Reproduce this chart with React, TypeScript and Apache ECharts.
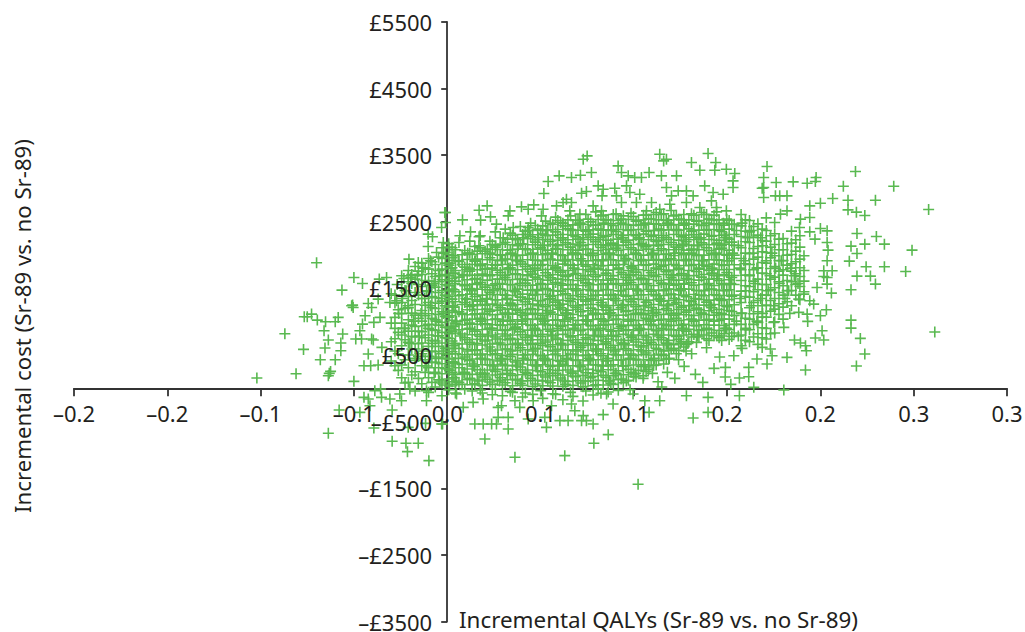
import React, { useEffect, useRef } from "react";
import * as echarts from "echarts";

const xTicks = [-0.2, -0.15, -0.1, -0.05, 0, 0.05, 0.1, 0.15, 0.2, 0.25, 0.3];
const xTickLabels = ["–0.2", "–0.2", "–0.1", "–0.1", "0.0", "0.1", "0.1", "0.2", "0.2", "0.3", "0.3"];
const yTicks = [-3500, -2500, -1500, -500, 500, 1500, 2500, 3500, 4500, 5500];
const yTickLabels = ["–£3500", "–£2500", "–£1500", "–£500", "£500", "£1500", "£2500", "£3500", "£4500", "£5500"];
const xTitle = "Incremental QALYs (Sr-89 vs. no Sr-89)";
const yTitle = "Incremental cost (Sr-89 vs. no Sr-89)";

// Scattered draws: [incremental QALYs, incremental cost]
const leftDraws = [
  [-.102,155],[-.081,220],[-.077,585],[-.087,820],[-.07,1885],[-.0766,1075],[-.075,1075],[-.0727,1115],[-.0696,1025],[-.0652,1000],
  [-.066,865],[-.0637,725],[-.0655,605],[-.068,430],[-.06,430],[-.057,565],[-.057,680],[-.056,815],[-.06,1000],[-.0584,1065],
  [-.0625,255],[-.0637,190],[-.0632,225],[-.0564,1475],[-.05,1665],[-.0454,1575],[-.0507,1250],[-.0504,1215],[-.0512,1240],[-.05,105],
  [-.0446,340],[-.0423,515],[-.041,340],[-.037,350],[-.044,1090],[-.0454,965],[-.0468,865],[-.049,740],[-.0459,740],[-.0405,740],
  [-.0396,725],[-.0393,990],[-.036,1065],[-.0423,1275],[-.0405,1215],[-.037,1340],[-.0325,1665],[-.0364,1640],[-.0307,1290],[-.0271,1315],
  [-.035,615],[-.0446,-135],[-.0423,-160],[-.0414,-260],[-.0388,-35],[-.0357,-10],[-.0352,-135],[-.0307,-160],[-.0254,-85],[-.0245,-185],
  [-.02,-10],[-.0111,-35],[-.0111,-185],[-.0579,-325],[-.0637,-675],[-.0468,-360],[-.0393,-595],[-.0295,-325],[-.0295,-795],[-.0221,-825],
  [-.0155,-825],[-.0213,-950],[-.0098,-1085],[-.0116,-525],[-.0025,-535],[-.0209,-585],[-.0009,2640],[-.003,2415],[-.0009,2490],[-.0102,2315],
  [-.0079,2275],[-.0102,2130],[-.0057,2040],[-.0021,2190],[-.0205,1940],[-.0155,1890],[-.0209,1690],[-.0232,1650],[-.0195,1660],[-.0268,1560],
];
const topDraws = [
  [-.0013,2640],[.0082,2530],[.0214,2740],[.0171,2675],[.0232,2575],[.0179,2525],[.0125,2350],[.0068,2290],[.0171,2275],[.0336,2665],
  [.0327,2590],[.0398,2725],[.0434,2690],[.0464,2755],[.0514,2690],[.0505,2590],[.0264,2465],[.0354,2415],[.0434,2415],[.0518,2925],
  [.0541,3105],[.06,3190],[.0666,3165],[.0714,3200],[.0773,3240],[.0729,3440],[.075,3490],[.072,2930],[.0746,2955],[.0639,2840],
  [.0621,2790],[.0666,2790],[.0586,2740],[.0657,2665],[.0809,3040],[.0836,2990],[.083,2890],[.0898,3005],[.0916,3340],[.0934,3240],
  [.097,3190],[.1005,3165],[.1041,3165],[.1082,3240],[.1139,3515],[.116,3415],[.1175,3440],[.1148,3190],[.1229,3190],[.1309,3390],
  [.1354,3275],[.1398,3525],[.1439,3390],[.1434,3275],[.1496,3290],[.1541,3225],[.1175,3015],[.1202,2890],[.1238,2965],[.1282,2965],
  [.1318,2890],[.138,3040],[.1425,2940],[.0961,3040],[.0979,2940],[.1032,2915],[.0907,2890],[.0934,2790],[.1014,2790],[.1095,2790],
  [.0782,2740],[.0827,2665],[.0711,2615],[.1532,3115],[.1532,3015],[.1479,2915],[.1496,2665],[.1416,2815],[.1443,2715],[.1354,2715],
  [.1282,2790],[.1193,2765],[.1139,2690],[.1068,2665],
];
const bottomDraws = [
  [.0202,-760],[.0363,-1035],[.063,-1010],[.0786,-825],[.0863,-695],[.0148,-535],[.0193,-535],[.0238,-535],[.0264,-535],[.0327,-610],
  [.0327,-435],[.0273,-435],[.0434,-460],[.0532,-585],[.0523,-435],[.0604,-485],[.0648,-485],[.072,-485],[.0746,-485],[.0782,-535],
  [.0836,-395],[.1082,-360],[.1318,-445],[.1398,-360],[.0684,-335],[.0729,-410],[.0666,-235],[.0389,-285],[.0291,-260],[.0273,-285],
  [.0363,-185],[.0461,-185],[.0559,-260],[.0139,-210],[.0086,-285],[.005,-85],[.0193,-160],[.0889,-235],[.0854,-85],[.0996,-85],
  [.1059,-185],[.1139,-185],[.1282,-110],[.1398,-135],[-.003,-535],[.1023,-1440],[.1,215],[.105,150],[.108,320],[.113,100],[.118,240],
  [.122,150],[.127,330],[.133,210],[.137,90],[.143,300],[.149,170],[.152,60],[.146,470],[.131,520],[.124,430],[.139,610],[.115,20],[.098,-20],
];
const rightDraws = [
  [.2188,3255],[.1714,3330],[.2393,3035],[.258,2685],[.2613,845],[.2491,2075],[.2457,1755],[.2343,2165],[.23,2280],[.2238,2165],
  [.2196,2325],[.2196,2025],[.2164,2135],[.2155,1910],[.2245,1825],[.2343,1825],[.2196,1685],[.2268,1685],[.2295,1565],[.2164,1480],
  [.2164,1025],[.2164,905],[.2214,750],[.2238,515],[.2193,335],[.192,275],[.2123,3035],[.2295,2825],[.2148,2825],[.2148,2680],
  [.2193,2645],[.2238,2595],[.2066,2850],[.2,2780],[.1977,3165],[.1973,3105],[.1929,3080],[.1854,3100],[.1763,3090],[.1696,3165],
  [.1696,3015],[.1688,3005],[.1759,2890],[.1782,2890],[.1821,2890],[.1696,2865],[.1943,2740],[.1821,2665],[.1786,2615],[.1943,2565],
  [.1893,2540],[.1888,2415],[.2,2400],[.2036,2365],[.1943,2350],[.1971,2240],[.2036,2190],[.2041,2075],[.2036,1915],[.2063,1765],
  [.2018,1765],[.2036,1665],[.2018,1680],[.2036,1565],[.1982,1515],[.2059,1430],[.1911,1415],[.1884,1340],[.1943,1315],[.1964,1265],
  [.2032,1180],[.2,1090],[.1929,1115],[.1932,1005],[.1884,1140],[.1836,1125],[.2009,865],[.1973,755],[.2018,725],[.1861,725],
  [.1893,680],[.192,640],[.1925,565],[.1804,915],[.175,990],[.1821,465],[.1741,490],[.1714,365],[.1688,615],[.1732,590],
  [.1616,315],[.1616,175],[.1566,155],[.1643,15],[.1804,-25],[.1566,-110],[.1536,490],[.1491,315],[.166,440],[.158,600],
];

// Dense cloud, read column by column
const coreQalys = [
  .008,.0107,.0134,.0161,.0188,.0215,.0242,.0269,.0296,.0323,.035,.0377,.0404,.0431,.0458,.0485,.0512,.0539,.0566,.0593,
  .062,.0647,.0674,.0701,.0728,.0755,.0782,.0809,.0836,.0863,.089,.0917,.0944,.0971,.0998,.1025,.1052,.1079,.1106,.1133,
  .116,.1187,.1214,.1241,.1268,.1295,.1322,.1349,.1376,.1403,.143,.1457,.1484,.1511,.1538,
];
const coreCosts = [
  [60,215,360,505,665,815,955,1110,1260,1405,1560,1710,1860,2005],
  [130,290,435,585,730,890,1035,1180,1335,1485,1630,1785,1935],
  [-40,55,210,365,510,660,805,965,1105,1255,1415,1560,1700,1860,2010],
  [125,280,440,580,735,880,1040,1185,1330,1490,1635,1780,1940,2060],
  [-70,45,205,355,515,650,810,960,1115,1260,1400,1555,1715,1865,2020],
  [135,275,430,590,725,885,1030,1190,1340,1480,1625,1790,1930,2090],
  [-95,60,200,350,505,665,800,955,1105,1265,1410,1550,1705,1855,2010,2160],
  [120,285,425,575,740,875,1035,1175,1330,1495,1640,1775,1925,2085],
  [-110,50,210,360,495,655,815,950,1110,1250,1405,1565,1700,1860,2005,2165],
  [130,270,435,585,730,880,1025,1190,1335,1470,1630,1785,1935,2075,2240],
  [-60,40,195,345,510,660,800,960,1115,1255,1395,1555,1710,1850,2015,2155,2300],
  [125,280,420,570,735,885,1030,1175,1325,1490,1635,1780,1925,2090,2230],
  [-130,45,205,365,500,650,805,965,1100,1260,1415,1545,1705,1865,2000,2165,2310],
  [115,275,430,580,725,875,1040,1180,1340,1475,1625,1790,1930,2080,2245,2370],
  [-90,30,195,350,510,660,795,950,1110,1265,1400,1550,1715,1850,2010,2155,2305],
  [120,265,425,590,730,870,1035,1185,1320,1485,1640,1775,1920,2090,2230,2390],
  [-150,40,200,355,495,645,810,960,1095,1255,1410,1560,1695,1860,2005,2150,2315,2440],
  [110,280,435,570,725,885,1025,1170,1335,1480,1625,1785,1930,2075,2235,2380],
  [-80,35,190,345,505,655,800,950,1115,1250,1395,1565,1705,1845,2015,2160,2300,2460],
  [125,270,420,585,735,870,1030,1190,1325,1470,1640,1775,1925,2090,2225,2385,2520],
  [-170,30,200,360,490,650,810,945,1100,1265,1405,1550,1700,1865,1995,2155,2310,2445],
  [105,275,430,575,720,880,1040,1175,1320,1490,1630,1770,1935,2080,2230,2395,2530],
  [-120,45,185,340,510,660,790,955,1110,1245,1395,1560,1710,1850,2005,2165,2300,2455],
  [115,260,425,580,730,875,1020,1185,1335,1475,1620,1785,1925,2075,2240,2375,2525],
  [-190,25,195,350,495,645,805,960,1090,1255,1410,1545,1695,1860,2010,2150,2305,2460],
  [110,285,415,570,735,885,1030,1165,1330,1485,1635,1780,1915,2085,2235,2380,2540],
  [-100,40,180,355,505,650,795,945,1105,1260,1390,1555,1705,1855,2000,2160,2315,2450],
  [-10,120,270,430,585,720,870,1035,1180,1325,1470,1630,1790,1930,2070,2230,2390,2535],
  [50,195,345,490,660,800,950,1115,1250,1400,1565,1700,1845,2010,2155,2295,2465,2600],
  [-55,115,280,420,575,740,880,1025,1175,1340,1480,1625,1775,1935,2085,2225,2380,2530],
  [60,190,355,510,645,795,960,1095,1245,1410,1560,1695,1850,2005,2165,2310,2445,2610],
  [-30,130,265,425,585,725,865,1030,1185,1320,1465,1635,1785,1920,2075,2240,2385,2520],
  [85,205,340,500,655,810,950,1100,1260,1400,1550,1710,1860,1995,2150,2300,2460,2590],
  [120,285,435,570,720,880,1035,1170,1330,1490,1625,1770,1930,2085,2225,2375,2535],
  [180,350,495,650,800,945,1110,1255,1395,1555,1705,1845,2010,2160,2305,2450,2580],
  [270,425,580,735,870,1020,1185,1335,1470,1630,1780,1920,2075,2240,2385,2525],
  [190,355,505,640,795,955,1105,1245,1405,1560,1695,1855,2000,2155,2315,2455,2600],
  [285,430,565,725,885,1030,1165,1325,1485,1635,1770,1925,2090,2230,2370,2540],
  [345,500,655,810,945,1095,1260,1410,1545,1700,1865,2005,2150,2300,2465,2610],
  [420,580,730,875,1025,1180,1335,1475,1620,1785,1935,2070,2225,2390,2530],
  [365,495,650,800,960,1110,1250,1395,1560,1710,1850,2010,2160,2295,2450,2620],
  [440,570,720,885,1035,1170,1320,1490,1630,1775,1930,2080,2235,2380,2525],
  [600,655,795,945,1100,1265,1405,1550,1705,1860,1995,2155,2310,2460,2590],
  [570,735,875,1020,1185,1330,1480,1625,1785,1925,2085,2225,2375,2540],
  [620,800,960,1105,1245,1400,1565,1700,1845,2005,2165,2300,2450,2610],
  [700,885,1030,1175,1320,1490,1635,1770,1935,2075,2230,2395,2530],
  [810,945,1095,1255,1410,1550,1695,1860,2010,2150,2305,2465,2600],
  [770,870,1025,1180,1335,1470,1625,1790,1920,2080,2240,2375,2520],
  [800,955,1110,1250,1390,1560,1710,1850,2000,2160,2315,2445,2610],
  [720,880,1035,1165,1325,1485,1640,1775,1930,2070,2235,2385,2540],
  [790,950,1100,1260,1405,1545,1700,1865,2005,2155,2295,2460,2600],
  [760,870,1020,1185,1330,1475,1620,1780,1925,2090,2225,2380,2530],
  [820,945,1105,1245,1395,1555,1710,1845,2010,2165,2300,2450],
  [735,880,1040,1170,1335,1480,1630,1785,1915,2075,2240,2390,2520],
  [830,960,1095,1255,1400,1560,1695,1855,2000,2150,2310,2465],
];

// Second, off-grid reading of the dense cloud
const overlayQalys = [
  .0012,.0036,.0063,.0094,.0121,.0148,.0177,.0203,.0229,.0258,.0284,.0311,.0338,.0366,.0392,.0419,.0447,.0472,.0501,.0527,
  .0553,.0581,.0608,.0634,.0661,.0689,.0716,.0743,.0769,.0796,.0824,.0851,.0877,.0905,.0932,.0958,.0985,.1012,.1039,.1066,
  .1093,.112,.1147,.1174,.12,.1228,.1255,.1281,.1309,.1336,.1363,.139,.1417,.1444,.1471,.1498,.1525,
];
const overlayCosts = [
  [35,270,515,820,1090,1340,1615,1880,2120],
  [160,390,640,930,1220,1480,1730,1990],
  [90,310,600,880,1150,1390,1670,1905,2190],
  [-15,240,470,760,1020,1290,1540,1820,2070],
  [150,420,690,980,1230,1500,1760,2030,2210],
  [70,330,570,860,1120,1380,1650,1910,2130],
  [-25,230,500,780,1050,1310,1590,1840,2110,2290],
  [170,440,710,970,1250,1520,1800,2060],
  [95,350,620,900,1160,1440,1690,1960,2210],
  [-5,255,520,770,1040,1330,1570,1850,2120,2350],
  [160,410,680,950,1210,1490,1740,2000,2260],
  [85,340,590,870,1130,1400,1660,1940,2190,2390],
  [-45,220,480,750,1010,1280,1560,1810,2080,2330],
  [135,395,660,920,1190,1450,1720,1990,2250],
  [75,320,610,850,1140,1370,1640,1900,2170,2430],
  [-70,240,505,765,1035,1300,1580,1830,2095,2360],
  [150,425,675,945,1200,1475,1750,2015,2280,2480],
  [65,345,600,880,1125,1410,1670,1925,2195,2445],
  [-35,250,490,780,1050,1315,1565,1845,2110,2370],
  [170,415,695,960,1225,1500,1735,2020,2290,2510],
  [85,330,625,860,1145,1385,1660,1940,2205,2480],
  [-90,225,515,755,1025,1295,1590,1820,2100,2350,2570],
  [155,405,665,935,1210,1460,1745,2005,2260,2490],
  [60,340,580,875,1130,1420,1680,1915,2185,2440],
  [-60,245,510,770,1060,1305,1555,1850,2120,2385,2590],
  [175,420,690,950,1215,1495,1725,2030,2275,2520],
  [80,325,615,865,1150,1375,1650,1945,2190,2465],
  [-40,235,495,760,1030,1310,1585,1835,2090,2360,2610],
  [160,430,670,940,1205,1465,1755,1995,2270,2500],
  [55,350,590,885,1125,1400,1675,1920,2200,2450,2650],
  [-75,250,520,775,1045,1290,1560,1840,2115,2375,2590],
  [165,410,700,955,1220,1485,1730,2025,2285,2530],
  [75,335,610,860,1135,1395,1645,1930,2180,2470],
  [225,500,780,1040,1320,1575,1855,2105,2355,2620],
  [140,425,680,930,1210,1470,1740,2000,2265,2540],
  [340,595,870,1155,1385,1665,1950,2195,2460],
  [240,515,765,1030,1300,1590,1825,2110,2380,2630],
  [170,435,695,945,1225,1490,1745,2020,2290,2510],
  [330,620,885,1130,1405,1655,1935,2175,2455],
  [255,530,770,1050,1295,1570,1850,2125,2360,2600],
  [420,690,960,1215,1460,1735,2010,2280,2540],
  [350,600,865,1140,1390,1680,1925,2205,2470,2640],
  [510,760,1035,1310,1580,1830,2095,2370,2610],
  [440,675,940,1200,1480,1750,2015,2265,2520],
  [590,880,1125,1415,1660,1945,2190,2455,2670],
  [520,780,1050,1290,1565,1840,2120,2385,2600],
  [700,950,1220,1495,1725,2030,2275,2530],
  [660,860,1145,1375,1650,1935,2200,2465],
  [770,1040,1305,1585,1845,2090,2360,2620],
  [690,940,1205,1470,1755,1995,2270,2510],
  [880,1130,1400,1670,1920,2185,2450,2640],
  [745,1025,1295,1560,1835,2110,2375,2610],
  [830,1210,1490,1730,2025,2285,2530],
  [790,1135,1395,1645,1930,2180,2470,2650],
  [720,1040,1320,1575,1855,2105,2355],
  [900,1225,1470,1740,2000,2265,2540],
  [780,1155,1385,1665,1950,2195,2460],
];

// Third reading of the cloud, row by row, that breaks up the columns
const rowCosts = [2480, 2370, 2260, 2140, 2030, 1915, 1805, 1690, 1575, 1465, 1350, 1240, 1125, 1010, 900, 785, 675, 560, 450, 335, 225, 110];
const rowQalys = [
  [.062,.071,.084,.093,.106,.118,.127,.139,.148,.158],
  [.044,.053,.067,.076,.088,.097,.111,.123,.132,.146,.155,.163],
  [.03,.041,.049,.062,.073,.082,.094,.103,.115,.128,.136,.149,.161,.168],
  [.017,.026,.038,.052,.059,.071,.085,.091,.105,.113,.126,.134,.147,.156,.169],
  [-.002,.011,.023,.034,.046,.056,.067,.078,.087,.101,.11,.122,.131,.144,.153,.164,.174],
  [-.009,.006,.015,.029,.037,.051,.063,.072,.083,.095,.104,.117,.128,.137,.15,.159,.171,.179],
  [-.013,.002,.012,.024,.033,.047,.058,.068,.079,.092,.099,.112,.124,.135,.142,.157,.166,.176,.184],
  [-.016,-.004,.009,.019,.031,.043,.054,.065,.074,.089,.098,.108,.121,.129,.145,.151,.162,.173,.186],
  [-.019,-.007,.004,.016,.028,.039,.05,.061,.076,.086,.096,.107,.119,.127,.14,.152,.165,.178,.188],
  [-.022,-.011,.001,.013,.025,.036,.048,.057,.069,.081,.093,.102,.116,.125,.138,.148,.16,.172,.183],
  [-.024,-.012,-.003,.01,.021,.032,.044,.055,.066,.077,.09,.1,.114,.122,.133,.146,.157,.168,.181],
  [-.021,-.009,.003,.014,.027,.035,.049,.06,.07,.083,.094,.106,.118,.13,.141,.15,.163,.175],
  [-.026,-.014,-.002,.008,.02,.033,.042,.053,.064,.078,.087,.101,.11,.123,.136,.147,.158,.169],
  [-.018,-.006,.005,.018,.03,.04,.052,.063,.075,.084,.097,.109,.12,.132,.143,.155,.166],
  [-.023,-.01,.002,.012,.024,.036,.047,.059,.068,.082,.092,.103,.115,.126,.139,.149,.16],
  [-.015,-.005,.007,.022,.031,.045,.056,.066,.079,.088,.099,.113,.124,.134,.147,.156],
  [-.02,-.008,.004,.016,.027,.038,.05,.061,.073,.085,.095,.107,.118,.129,.125],
  [-.013,-.002,.011,.023,.034,.046,.058,.069,.08,.09,.104,.116,.128],
  [-.017,-.006,.006,.018,.029,.041,.052,.064,.076,.086,.098,.111,.119],
  [-.011,.001,.014,.025,.037,.048,.06,.071,.083,.094,.106],
  [-.007,.009,.02,.032,.043,.055,.067,.078,.09,.101,.11],
  [-.004,.005,.017,.028,.04,.051,.063,.074,.087,.096],
];

// Thinner flanks of the cloud
const flankQalys = [
  -.03,-.028,-.0262,-.0244,-.0226,-.0208,-.019,-.0172,-.0154,-.0136,-.0118,-.01,-.0082,-.0064,-.0046,-.0028,-.001,.0008,.0026,.0044,
  .1575,.1598,.162,.1642,.1665,.1688,.171,.1733,.1755,.1778,.18,.1822,.1845,.1868,.189,.1912,
];
const flankCosts = [
  [410,700,980,1420],
  [340,560,745,900,1065,1280,1400],
  [270,520,840,1180],
  [160,350,640,800,980,1120,1290,1510,1690],
  [80,430,730,900,1200,1470],
  [90,310,500,690,860,1030,1210,1380,1600,1770],
  [200,590,780,950,1130,1320,1710],
  [-40,250,420,590,770,930,1100,1260,1440,1640,1830],
  [150,480,670,860,1050,1400,1560,1760],
  [70,340,520,680,850,1010,1170,1350,1530,1710,1880],
  [240,430,760,940,1090,1250,1620,1810],
  [-60,160,310,480,630,800,960,1120,1290,1450,1610,1790,1950],
  [90,390,560,720,880,1050,1210,1380,1550,1720,1900],
  [20,240,390,550,710,870,1030,1200,1360,1520,1680,1860],
  [130,310,470,630,790,950,1110,1280,1440,1600,1770,1970],
  [-110,80,220,370,520,680,840,990,1150,1310,1470,1630,1790,1950,2110],
  [50,300,450,600,760,920,1080,1240,1400,1560,1710,1880,2040],
  [-20,140,290,440,600,750,910,1070,1220,1380,1540,1690,1850,2010,2170],
  [100,240,400,550,710,860,1020,1170,1340,1490,1650,1810,1960,2110],
  [-70,60,210,370,520,670,830,980,1140,1300,1450,1610,1770,1920,2080],
  [640,800,960,1130,1290,1460,1620,1780,1950,2110,2280,2440,2610],
  [720,880,1050,1380,1540,1700,1870,2030,2200,2360,2530],
  [700,880,1040,1210,1370,1530,1700,1860,2020,2190,2350,2520],
  [770,960,1120,1290,1450,1610,1780,1940,2100,2270,2430],
  [660,820,990,1150,1320,1480,1640,1810,1970,2130,2300,2470],
  [760,910,1070,1240,1400,1560,1730,1890,2050,2220,2390],
  [740,900,1070,1250,1400,1560,1720,1880,2040,2210,2370,2560],
  [820,1160,1320,1480,1640,1800,1960,2120,2290],
  [830,1000,1190,1350,1510,1670,1830,1990,2160,2320,2490],
  [1110,1270,1440,1600,1760,1920,2080,2240],
  [1040,1220,1400,1540,1700,1780,1920,2080,2250],
  [1300,1470,1620,1850,2000,2170],
  [1240,1470,1600,1760,1870,2010,2180,2360],
  [1400,1560,1720,1900,2060,2230],
  [1330,1530,1680,1810,1940,2120,2290],
  [1450,1610,1770,1990],
];

const plus = "path://M0 5H10M5 0V10";

const cloud = [
  ...leftDraws, ...topDraws, ...bottomDraws, ...rightDraws,
  ...coreQalys.flatMap((x, i) => coreCosts[i].map((y) => [x, y])),
  ...overlayQalys.flatMap((x, i) => overlayCosts[i].map((y) => [x, y])),
  ...rowCosts.flatMap((y, i) => rowQalys[i].map((x) => [x, y])),
  ...flankQalys.flatMap((x, i) => flankCosts[i].map((y) => [x, y])),
];

const font = "'Noto Sans', sans-serif";
const textColor = "#231f20";

export default function App() {
  const ref = useRef<HTMLDivElement>(null);
  useEffect(() => {
    const chart = echarts.init(ref.current!, undefined, { renderer: "svg" });
    const xRange = { type: "value", min: -0.2, max: 0.3, splitLine: { show: false } };
    const yRange = { type: "value", min: -3500, max: 5500, splitLine: { show: false } };
    chart.setOption({
      animation: false,
      backgroundColor: "#ffffff",
      grid: { left: 74, right: 18, top: 22, bottom: 10.5, containLabel: false, outerBoundsMode: "none" },
      xAxis: [
        {
          ...xRange, position: "bottom", z: 1,
          axisLine: { show: true, onZero: true, lineStyle: { color: "#333333", width: 1.8 } },
          axisTick: { show: true, customValues: xTicks, length: 8, lineStyle: { color: "#333333", width: 1.8 } },
          axisLabel: { show: false },
        },
        {
          ...xRange, position: "bottom", offset: -233.1, z: 6,
          axisLine: { show: false, onZero: false },
          axisTick: { show: false },
          axisLabel: {
            show: true, customValues: xTicks, margin: 14, fontSize: 22, fontFamily: font, color: textColor,
            hideOverlap: false,
            formatter: (v: number) => xTickLabels[xTicks.findIndex((t) => Math.abs(t - v) < 1e-6)],
          },
        },
      ],
      yAxis: [
        {
          ...yRange, position: "left", z: 1,
          axisLine: { show: true, onZero: true, lineStyle: { color: "#333333", width: 1.8 } },
          axisTick: { show: true, customValues: yTicks, length: 6, lineStyle: { color: "#333333", width: 1.8 } },
          axisLabel: { show: false },
        },
        {
          ...yRange, position: "left", offset: -373.2, z: 6,
          axisLine: { show: false, onZero: false },
          axisTick: { show: false },
          axisLabel: {
            show: true, customValues: yTicks, margin: 15, fontSize: 22, fontFamily: font, color: textColor,
            hideOverlap: false,
            formatter: (v: number) => yTickLabels[yTicks.indexOf(v)],
          },
        },
      ],
      graphic: [
        {
          type: "text", left: 459, top: 608, z: 10,
          style: { text: xTitle, font: `22.4px ${font}`, fill: textColor },
        },
        {
          type: "text", x: 22, y: 326, rotation: Math.PI / 2, z: 10,
          style: { text: yTitle, font: `22.2px ${font}`, fill: textColor, textAlign: "center", textVerticalAlign: "middle" },
        },
      ],
      series: [
        {
          type: "scatter", xAxisIndex: 0, yAxisIndex: 0, z: 3, data: cloud,
          symbol: plus, symbolSize: 11,
          itemStyle: { color: "none", borderColor: "#59b950", borderWidth: 1.6, opacity: 1 },
          emphasis: { disabled: true }, silent: true,
        },
      ],
    });
    return () => chart.dispose();
  }, []);
  return <div ref={ref} style={{ width: 1025, height: 632, position: "absolute", left: 0, top: 0 }} />;
}
